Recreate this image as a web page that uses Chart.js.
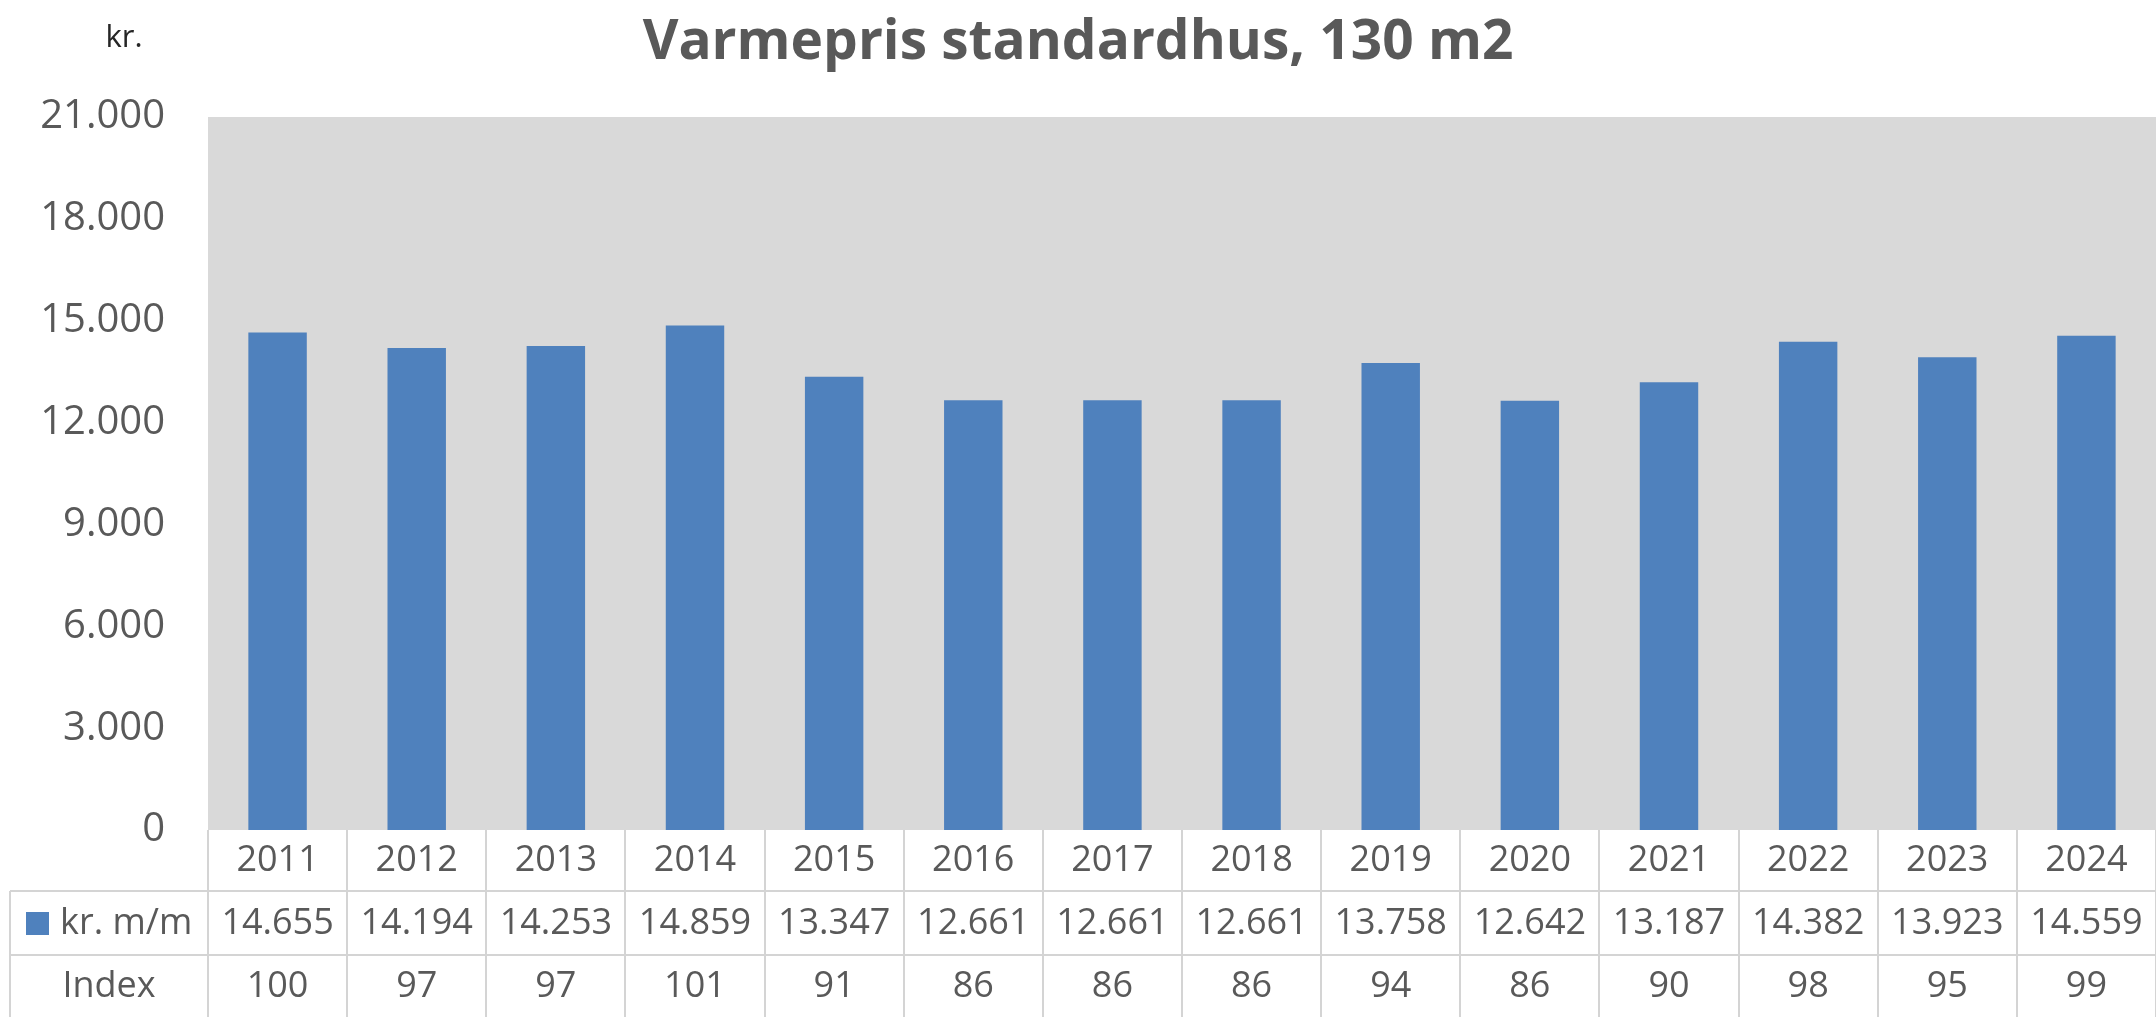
<!DOCTYPE html>
<html>
<head>
<meta charset="utf-8">
<title>Varmepris standardhus, 130 m2</title>
<script src="https://cdn.jsdelivr.net/npm/chart.js"></script>
<style>
  html, body { margin: 0; padding: 0; background: #fff; }
  canvas { display: block; }
</style>
</head>
<body>
<canvas id="myChart" width="2156" height="1017"></canvas>
<script>
// data
const years = ['2011', '2012', '2013', '2014', '2015', '2016', '2017', '2018', '2019', '2020', '2021', '2022', '2023', '2024'];
const prices = [14655, 14194, 14253, 14859, 13347, 12661, 12661, 12661, 13758, 12642, 13187, 14382, 13923, 14559];
const indexValues = [100, 97, 97, 101, 91, 86, 86, 86, 94, 86, 90, 98, 95, 99];
const yTicks = [0, 3000, 6000, 9000, 12000, 15000, 18000, 21000];

const seriesLabel = 'kr. m/m';
const barColor = '#4f81bd';
const textColor = '#595959';
const lineColor = '#d4d4d4';
const font = 'Open Sans';

const fmt = (v) => String(v).replace(/\B(?=(\d{3})+(?!\d))/g, '.');

// grey plot area + data table under the chart
const tablePlugin = {
    id: 'tablePlugin',
    beforeDatasetsDraw(chart) {
        const { ctx, chartArea } = chart;
        ctx.save();
        ctx.fillStyle = '#d9d9d9';
        ctx.fillRect(chartArea.left, chartArea.top, chartArea.right - chartArea.left, chartArea.bottom - chartArea.top);
        ctx.restore();
    },
    afterDraw(chart) {
        const { ctx, chartArea } = chart;
        const x = chart.scales.x;
        const colW = (chartArea.right - chartArea.left) / years.length;
        const row0 = chartArea.bottom;   // year row top
        const row1 = row0 + 61;          // value row top
        const row2 = row1 + 64;          // index row top
        const row3 = chart.height;
        const tableLeft = 10;

        ctx.save();
        ctx.strokeStyle = lineColor;
        ctx.lineWidth = 2;
        ctx.beginPath();
        // horizontal lines
        ctx.moveTo(tableLeft, row1); ctx.lineTo(chartArea.right, row1);
        ctx.moveTo(tableLeft, row2); ctx.lineTo(chartArea.right, row2);
        // left border of the legend cells
        ctx.moveTo(tableLeft, row1); ctx.lineTo(tableLeft, row3);
        // column borders
        for (let i = 0; i <= years.length; i++) {
            const bx = Math.round(chartArea.left + i * colW);
            ctx.moveTo(bx, row0); ctx.lineTo(bx, row3);
        }
        ctx.stroke();

        ctx.fillStyle = textColor;
        ctx.font = '36px "' + font + '"';
        ctx.textAlign = 'center';
        ctx.textBaseline = 'middle';
        years.forEach((y, i) => {
            const cx = x.getPixelForValue(i);
            ctx.fillText(y, cx, (row0 + row1) / 2);
            ctx.fillText(fmt(prices[i]), cx, (row1 + row2) / 2 + 1);
            ctx.fillText(String(indexValues[i]), cx, (row2 + row3) / 2 + 1);
        });

        // row headers
        ctx.fillStyle = barColor;
        ctx.fillRect(26, (row1 + row2) / 2 - 11, 23, 23);
        ctx.fillStyle = textColor;
        ctx.textAlign = 'left';
        ctx.fillText(seriesLabel, 60, (row1 + row2) / 2 + 1);
        ctx.textAlign = 'center';
        ctx.fillText('Index', (tableLeft + chartArea.left) / 2, (row2 + row3) / 2 + 1);

        // unit label top-left
        ctx.fillStyle = '#262626';
        ctx.font = '31px "' + font + '"';
        ctx.fillText('kr.', 124, 38);
        ctx.restore();
    }
};

const ctx = document.getElementById('myChart');

new Chart(ctx, {
    type: 'bar',
    data: {
        labels: years,
        datasets: [{
            label: seriesLabel,
            data: prices,
            backgroundColor: barColor,
            borderWidth: 0,
            categoryPercentage: 1,
            barPercentage: 0.42,
        }]
    },
    options: {
        responsive: false,
        animation: false,
        layout: {
            padding: { top: 0, bottom: 187, left: 0, right: 0 }
        },
        plugins: {
            legend: { display: false },
            tooltip: { enabled: false },
            title: {
                display: true,
                text: 'Varmepris standardhus, 130 m2',
                color: textColor,
                font: { family: font, size: 55, weight: 'bold' },
                padding: { top: 10, bottom: 41 }
            }
        },
        scales: {
            x: {
                display: false,
                grid: { display: false }
            },
            y: {
                min: 0,
                max: 21000,
                afterFit(scale) { scale.width = 208; },
                afterBuildTicks(scale) { scale.ticks = yTicks.map(v => ({ value: v })); },
                grid: { display: false, drawTicks: false },
                border: { display: false },
                ticks: {
                    padding: 43,
                    color: textColor,
                    font: { family: font, size: 40 },
                    callback: (v) => fmt(v)
                }
            }
        }
    },
    plugins: [tablePlugin]
});
</script>
</body>
</html>
